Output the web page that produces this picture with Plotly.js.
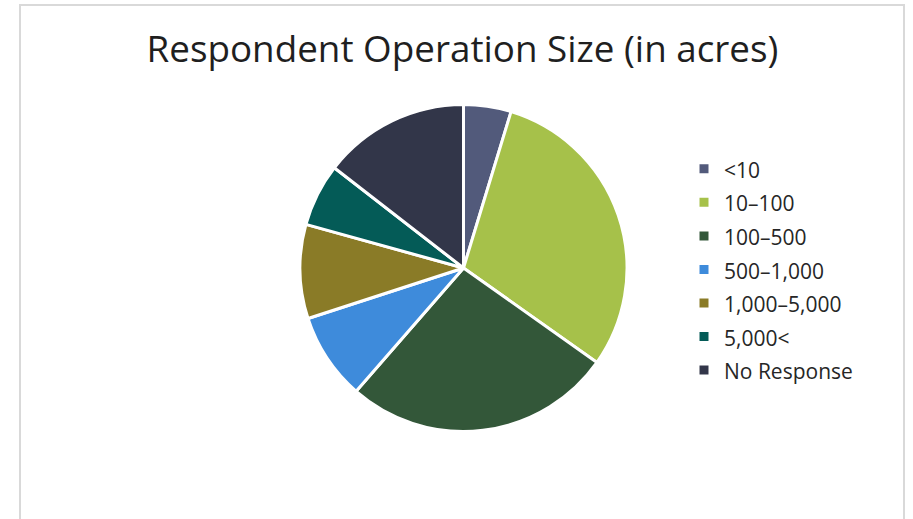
<!DOCTYPE html>
<html>
<head>
<meta charset="utf-8">
<script src="https://cdn.plot.ly/plotly-3.0.1.min.js"></script>
<style>
  html, body { margin: 0; padding: 0; background: #ffffff; }
  #wrap { position: relative; width: 913px; height: 519px; overflow: hidden; }
  #chart { position: absolute; left: 0; top: 0; width: 913px; height: 519px; }
  #frame { position: absolute; left: 19px; top: 4px; width: 886px; height: 560px;
           border: 2px solid #d9d9d9; box-sizing: border-box; pointer-events: none; }
</style>
</head>
<body>
<div id="wrap">
  <div id="chart"></div>
  <div id="frame"></div>
</div>
<script>
const categories = ["<10", "10–100", "100–500", "500–1,000", "1,000–5,000", "5,000<", "No Response"];
const shares = [4.7, 30.1, 26.6, 8.6, 9.3, 6.2, 14.5];
const sliceColors = ["#525a7b", "#a6c14a", "#335739", "#3e8bdb", "#8a7b27", "#045b57", "#323649"];

const labelText = categories.map(c => '<span style="font-size:21px">' + c + '</span>');

const trace = {
  type: 'pie',
  labels: labelText,
  values: shares,
  sort: false,
  direction: 'clockwise',
  rotation: 0,
  textinfo: 'none',
  hoverinfo: 'label+percent',
  marker: { colors: sliceColors, line: { color: '#ffffff', width: 3 } },
  domain: { x: [300 / 913, 627 / 913], y: [87.5 / 519, 414.5 / 519] }
};

const layout = {
  width: 913,
  height: 519,
  margin: { l: 0, r: 0, t: 0, b: 0 },
  paper_bgcolor: '#ffffff',
  plot_bgcolor: '#ffffff',
  title: {
    text: 'Respondent Operation Size (in acres)',
    font: { family: '"Open Sans", sans-serif', size: 36.8, color: '#1f1f1f' },
    x: 462.5 / 913, xanchor: 'center', xref: 'container',
    y: 1 - 49 / 519, yanchor: 'middle', yref: 'container'
  },
  showlegend: true,
  legend: {
    x: 684 / 913, xanchor: 'left',
    y: 1 - 147 / 519, yanchor: 'top',
    font: { family: '"Open Sans", sans-serif', size: 23.5, color: '#262626' },
    bgcolor: 'rgba(0,0,0,0)'
  }
};

Plotly.newPlot('chart', [trace], layout, { displayModeBar: false, staticPlot: true });
</script>
</body>
</html>
